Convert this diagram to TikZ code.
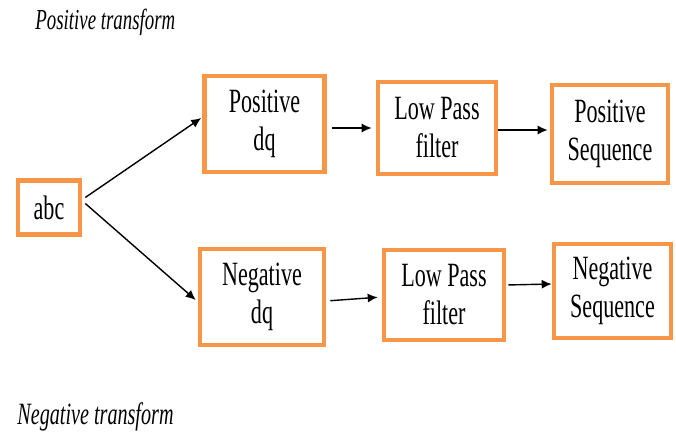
\documentclass[tikz,border=0pt]{standalone}
\usepackage{fontspec}
\setmainfont{Liberation Serif}[FakeStretch=0.65]
\usetikzlibrary{arrows.meta}
\definecolor{boxorange}{HTML}{F79646}

\begin{document}
\begin{tikzpicture}[x=0.5pt,y=-0.5pt,
  block/.style={draw=boxorange, line width=2.3pt, fill=white, align=center,
    font=\fontsize{17}{19}\selectfont, inner sep=0pt},
  flow/.style={-{Latex[length=5pt,width=4.5pt]}, line width=0.7pt}]
\useasboundingbox (0,0) rectangle (676,433);

\draw (49,207.5) node[block, minimum width=31pt, minimum height=27pt] (abc) {abc};
\draw (264.5,124) node[block, minimum width=60pt, minimum height=48pt] (pdq) {Positive\\dq};
\draw (437,128) node[block, minimum width=59pt, minimum height=46pt] (plpf) {Low Pass\\filter};
\draw (610,134) node[block, minimum width=58pt, minimum height=49pt] (pseq) {Positive\\Sequence};
\draw (262,297) node[block, minimum width=62pt, minimum height=48pt] (ndq) {Negative\\dq};
\draw (444,295) node[block, minimum width=60pt, minimum height=45pt] (nlpf) {Low Pass\\filter};
\draw (612.5,291) node[block, minimum width=58.5pt, minimum height=47pt] (nseq) {Negative\\Sequence};

\draw (35,22) node[anchor=west, inner sep=0pt, font=\fontsize{14.5}{16}\selectfont\itshape] (ptr) {Positive transform};
\draw (17,417) node[anchor=west, inner sep=0pt, font=\fontsize{15.5}{17}\selectfont\itshape] (ntr) {Negative transform};

\draw [flow] ([xshift=1.5pt,yshift=5pt]abc.east) to ([xshift=-0.5pt,yshift=3pt]pdq.west);
\draw [flow] ([xshift=1.5pt,yshift=2pt]abc.east) to ([xshift=-1pt,yshift=-1.5pt]ndq.west);
\draw [flow, shorten <=2.5pt, shorten >=2pt] (pdq.east |- plpf) to (plpf.west);
\draw [flow, shorten >=1pt] (plpf.east |- pseq.west) ++(0,-4) to ([yshift=2pt]pseq.west);
\draw [flow, shorten <=2pt, shorten >=2pt] ([yshift=-2pt]ndq.east) to ([yshift=-1pt]nlpf.west);
\draw [flow, shorten <=1pt] ([yshift=5pt]nlpf.east) to ([yshift=3.5pt]nseq.west);

\end{tikzpicture}
\end{document}
